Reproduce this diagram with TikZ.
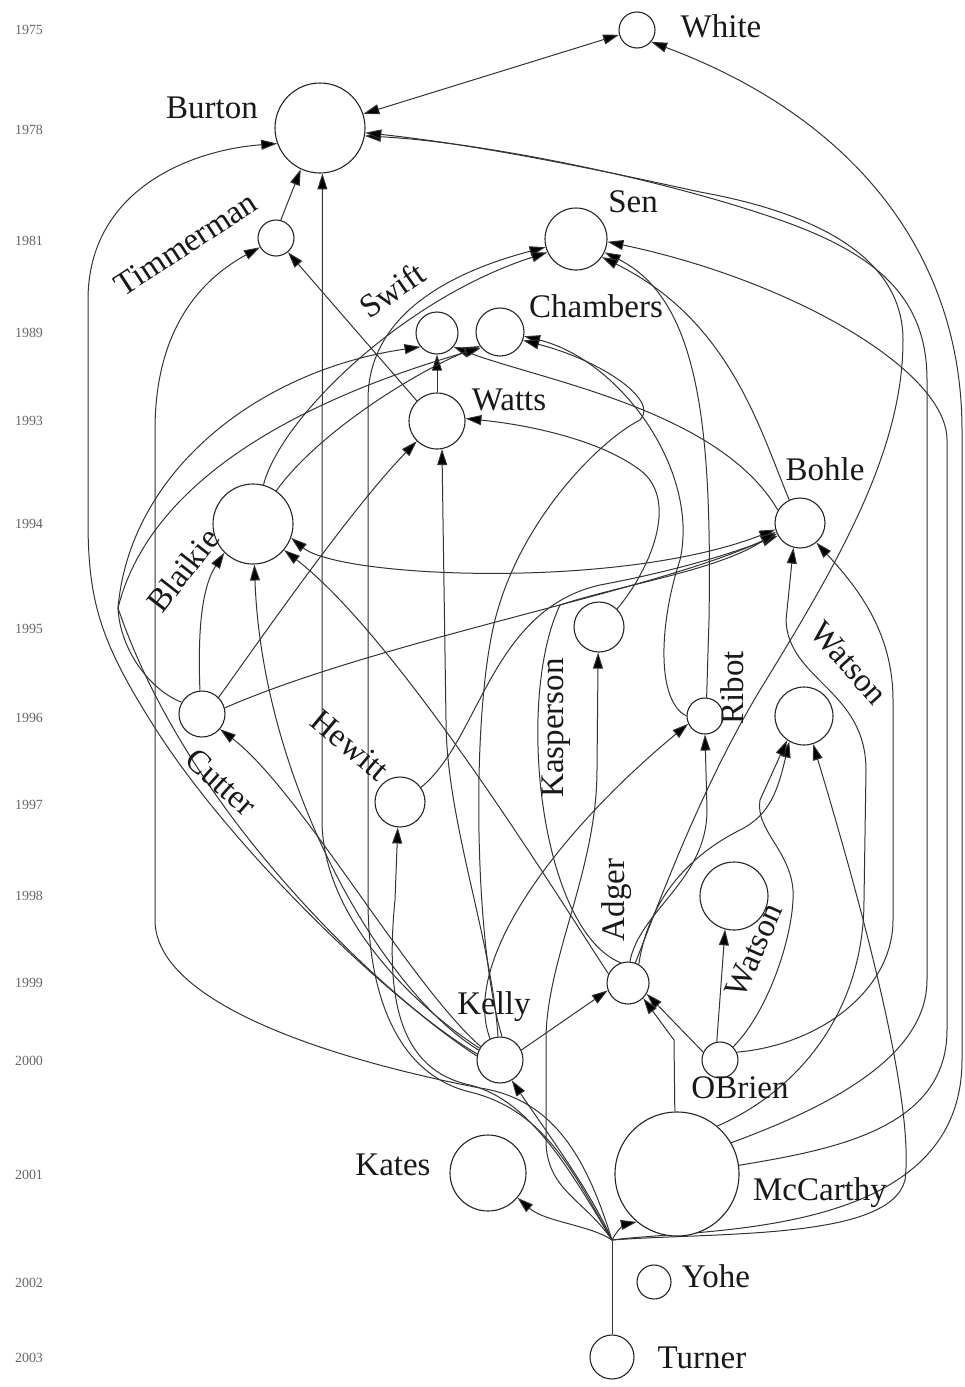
\documentclass[tikz,border=0pt]{standalone}
\usepackage{fontspec}
\setmainfont{Liberation Serif}
\usetikzlibrary{arrows.meta,backgrounds}
\begin{document}
\begin{tikzpicture}[x=1pt,y=-1pt,
 nd/.style={circle,draw=black!85,line width=1.1pt,fill=white,inner sep=0pt,minimum size=#1},
 lbl/.style={font=\fontsize{33}{36}\selectfont,inner sep=0pt,text=black!90},
 yr/.style={font=\fontsize{14}{16}\selectfont,text=black!60,inner sep=0pt},
 edge/.style={draw=black!80,line width=1pt},
 tip/.tip={Triangle[length=16pt,width=10pt,fill=black]},
 arr/.style={edge,-tip},
 darr/.style={edge,tip-tip}]
\useasboundingbox (0,0) rectangle (964,1387);
% years
\node[yr] (y1975) at (29,30) {1975};
\node[yr] (y1978) at (29,130) {1978};
\node[yr] (y1981) at (29,241) {1981};
\node[yr] (y1989) at (29,333) {1989};
\node[yr] (y1993) at (29,421) {1993};
\node[yr] (y1994) at (29,524) {1994};
\node[yr] (y1995) at (29,629) {1995};
\node[yr] (y1996) at (29,718) {1996};
\node[yr] (y1997) at (29,805) {1997};
\node[yr] (y1998) at (29,896) {1998};
\node[yr] (y1999) at (29,983) {1999};
\node[yr] (y2000) at (29,1061) {2000};
\node[yr] (y2001) at (29,1175) {2001};
\node[yr] (y2002) at (29,1283) {2002};
\node[yr] (y2003) at (29,1358) {2003};
% nodes
\node[nd=36] (white) at (637,30) {};
\node[nd=90] (burton) at (320,128) {};
\node[nd=36] (timmerman) at (276,238) {};
\node[nd=62] (sen) at (576,239) {};
\node[nd=42] (swift) at (437,333) {};
\node[nd=48] (chambers) at (500,332) {};
\node[nd=56] (watts) at (437,421) {};
\node[nd=80] (blaikie) at (253,524) {};
\node[nd=50] (bohle) at (800,523) {};
\node[nd=50] (kasperson) at (599,627) {};
\node[nd=36] (ribot) at (705,716) {};
\node[nd=58] (watsonA) at (804,716) {};
\node[nd=46] (cutter) at (202,714) {};
\node[nd=50] (hewitt) at (400,802) {};
\node[nd=68] (watsonB) at (734,896) {};
\node[nd=42] (adger) at (628,983) {};
\node[nd=46] (kelly) at (500,1060) {};
\node[nd=36] (obrien) at (720,1060) {};
\node[nd=76] (kates) at (488,1173) {};
\node[nd=124] (mccarthy) at (677,1174) {};
\node[nd=34] (yohe) at (654,1282) {};
\node[nd=44] (turner) at (612,1357) {};
\coordinate (tj) at (612,1240);
\coordinate (fan) at (118,608);
% labels
\node[lbl] (tWhite) at (721,26) {White};
\node[lbl] (tBurton) at (212,108) {Burton};
\node[lbl,rotate=33] (tTimmerman) at (186,244) {Timmerman};
\node[lbl] (tSen) at (633,202) {Sen};
\node[lbl,rotate=35] (tSwift) at (392,290) {Swift};
\node[lbl] (tChambers) at (596,306) {Chambers};
\node[lbl] (tWatts) at (509,400) {Watts};
\node[lbl] (tBohle) at (825,469) {Bohle};
\node[lbl,rotate=52] (tBlaikie) at (183,570) {Blaikie};
\node[lbl,rotate=90] (tKasperson) at (556,728) {Kasperson};
\node[lbl,rotate=90] (tRibot) at (732,688) {Ribot};
\node[lbl,rotate=-48] (tWatsonA) at (849,663) {Watson};
\node[lbl,rotate=-42] (tCutter) at (221,782) {Cutter};
\node[lbl,rotate=-40] (tHewitt) at (350,745) {Hewitt};
\node[lbl,rotate=90] (tAdger) at (617,900) {Adger};
\node[lbl,rotate=66] (tWatsonB) at (754,950) {Watson};
\node[lbl] (tKelly) at (494,1007) {Kelly};
\node[lbl] (tOBrien) at (740,1088) {OBrien};
\node[lbl] (tKates) at (393,1165) {Kates};
\node[lbl] (tMcCarthy) at (820,1193) {McCarthy};
\node[lbl] (tYohe) at (716,1276) {Yohe};
\node[lbl] (tTurner) at (702,1358) {Turner};
\begin{scope}[on background layer]
\fill[white] (0,0) rectangle (964,1387);
% top
\draw[darr] (burton.18) -- (white.195);
\draw[arr] (tj) .. controls (700,1228) and (962,1240) .. (962,1060) -- (962,430) .. controls (962,260) and (860,120) .. (white.-40);
\draw[arr] (mccarthy.8) .. controls (830,1150) and (947,1130) .. (947,1030) -- (947,440) .. controls (947,370) and (790,280) .. (sen.-5);
\draw[arr] (mccarthy.30) .. controls (820,1110) and (927,1060) .. (927,980) -- (927,380) .. controls (927,300) and (880,255) .. (780,220) .. controls (660,178) and (480,142) .. (burton.-10);
\draw[arr] (adger.70) .. controls (660,900) and (700,790) .. (760,690) .. controls (840,560) and (903,450) .. (903,340) .. controls (903,250) and (800,210) .. (700,192) .. controls (600,170) and (480,145) .. (burton.-6);
\draw[arr] (timmerman.75) -- (burton.245);
\draw[arr] (kelly.165) .. controls (400,1010) and (230,850) .. (150,720) .. controls (100,640) and (88,600) .. (88,520) -- (88,300) .. controls (88,190) and (190,150) .. (burton.200);
\draw[arr] (kelly.150) .. controls (420,1010) and (322,920) .. (322,820) -- (burton.-87);
\draw[arr] (watts.135) -- (timmerman.-50);
\draw[arr] (tj) .. controls (590,1170) and (560,1100) .. (480,1088) .. controls (360,1065) and (155,1010) .. (155,920) -- (155,430) .. controls (155,330) and (200,280) .. (timmerman.-150);
% Sen
\draw[arr] (tj) .. controls (575,1175) and (545,1110) .. (470,1092) .. controls (400,1075) and (368,1000) .. (368,900) -- (368,400) .. controls (368,320) and (440,275) .. (sen.195);
\draw[arr] (blaikie.75) .. controls (280,420) and (400,300) .. (sen.205);
\draw[arr] (ribot.85) -- (709,620) .. controls (712,430) and (700,300) .. (sen.-25);
\draw[arr] (bohle.115) .. controls (760,430) and (730,320) .. (sen.-35);
% Swift
\draw[arr] (watts.90) -- (swift.-90);
\draw[arr] (kelly.170) .. controls (390,1000) and (190,820) .. (fan) .. controls (130,470) and (260,370) .. (swift.-140);
\draw[arr] (bohle.150) .. controls (720,410) and (540,380) .. (swift.-40);
% Chambers
\draw[arr] (ribot.180) .. controls (655,700) and (660,620) .. (680,560) .. controls (700,470) and (620,360) .. (chambers.-10);
\draw[arr] (blaikie.55) .. controls (320,430) and (420,370) .. (chambers.-145);
\draw[arr] (cutter.150) .. controls (150,690) and (120,650) .. (fan) .. controls (150,480) and (300,400) .. (chambers.-140);
\draw[arr] (kelly.85) .. controls (475,950) and (470,720) .. (495,620) .. controls (520,520) and (600,440) .. (640,420) .. controls (660,400) and (600,360) .. (chambers.-20);
% Watts
\draw[arr] (cutter.45) .. controls (260,640) and (350,510) .. (watts.-135);
\draw[arr] (kelly.95) .. controls (492,940) and (446,820) .. (446,720) -- (watts.-80);
\draw[arr] (kasperson.45) .. controls (650,570) and (680,500) .. (640,470) .. controls (600,440) and (530,425) .. (watts.5);
% Blaikie
\draw[arr] (cutter.95) .. controls (198,640) and (200,590) .. (blaikie.-135);
\draw[arr] (kelly.155) .. controls (380,990) and (262,780) .. (blaikie.-88);
\draw[arr] (adger.155) .. controls (560,900) and (400,640) .. (blaikie.-40);
\draw[darr] (blaikie.-20) .. controls (340,578) and (620,590) .. (bohle.195);
% Bohle
\draw[arr] (cutter.15) .. controls (380,640) and (660,590) .. (bohle.205);
\draw[arr] (hewitt.35) .. controls (480,740) and (490,610) .. (600,585) .. controls (690,568) and (740,550) .. (bohle.210);
\draw[arr] (adger.110) .. controls (540,930) and (515,700) .. (560,605) .. controls (620,585) and (720,570) .. (bohle.200);
\draw[arr] (mccarthy.50) .. controls (800,1090) and (864,1010) .. (864,900) -- (866,770) .. controls (866,690) and (788,680) .. (786,620) -- (bohle.-105);
\draw[arr] (obrien.25) .. controls (820,1045) and (893,990) .. (893,920) -- (893,700) .. controls (893,630) and (855,585) .. (bohle.-50);
% Kasperson
\draw[arr] (tj) .. controls (585,1200) and (546,1190) .. (546,1140) -- (546,1040) .. controls (546,960) and (597,870) .. (597,770) -- (kasperson.-92);
% Ribot
\draw[arr] (kelly.115) .. controls (460,960) and (560,830) .. (ribot.205);
\draw[arr] (adger.85) .. controls (640,910) and (707,880) .. (707,810) -- (ribot.-90);
% Watson (1996)
\draw[arr] (adger.60) .. controls (650,890) and (700,850) .. (740,830) .. controls (770,815) and (778,790) .. (watsonA.-120);
\draw[arr] (obrien.45) .. controls (770,1010) and (795,930) .. (793,890) .. controls (790,850) and (755,830) .. (760,800) -- (watsonA.-125);
\draw[arr] (tj) .. controls (720,1232) and (890,1240) .. (905,1180) .. controls (915,1100) and (860,900) .. (watsonA.-72);
% Cutter, Hewitt
\draw[arr] (kelly.145) .. controls (410,985) and (300,790) .. (cutter.-40);
\draw[arr] (tj) .. controls (570,1170) and (530,1100) .. (470,1085) .. controls (400,1070) and (385,1000) .. (395,900) -- (hewitt.-95);
% Watson (1998), Adger
\draw[arr] (obrien.100) -- (watsonB.-105);
\draw[arr] (obrien.155) -- (adger.-30);
\draw[arr] (mccarthy.92) -- (674,1040) -- (adger.-45);
\draw[arr] (kelly.25) -- (adger.200);
% Turner
\draw[edge] (turner.90) -- (tj);
\draw[arr] (tj) .. controls (590,1190) and (545,1130) .. (kelly.-60);
\draw[arr] (tj) .. controls (590,1225) and (545,1222) .. (kates.-40);
\draw[arr] (tj) .. controls (618,1228) and (626,1224) .. (mccarthy.-130);
\end{scope}
\end{tikzpicture}
\end{document}
